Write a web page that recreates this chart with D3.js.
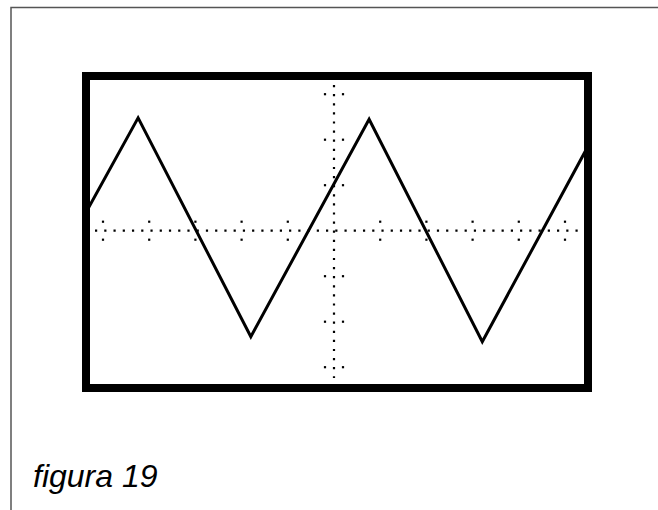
<!DOCTYPE html>
<html><head><meta charset="utf-8">
<script src="https://cdn.jsdelivr.net/npm/d3@7"></script>
<style>html,body{margin:0;padding:0;background:#fff;}svg{display:block;}</style>
</head><body>
<script>
// Waveform vertices in screen divisions (x: time div, y: volts div)
const waveX = [-5.37, -4.24, -1.80, 0.76, 3.21, 5.50];
const waveY = [0.40, 2.48, -2.33, 2.45, -2.44, 1.86];
const xTicks = [-5, -4, -3, -2, -1, 1, 2, 3, 4, 5];
const yTicks = [-3, -2, -1, 1, 2, 3];
const caption = "figura 19";

const W = 658, H = 510;
const svg = d3.select("body").append("svg").attr("width", W).attr("height", H);

// outer frame
svg.append("path").attr("d", `M11,${H} L11,7.5 L${W},7.5`)
  .attr("fill", "none").attr("stroke", "#555").attr("stroke-width", 1.5);

const x = d3.scaleLinear().domain([-5, 5]).range([103, 565]);
const y = d3.scaleLinear().domain([-3, 3]).range([367.2, 94.2]);

// graticule dotted axes
svg.append("line").attr("x1", 95).attr("x2", 578).attr("y1", y(0)).attr("y2", y(0))
  .attr("stroke", "#000").attr("stroke-width", 2.2).attr("stroke-dasharray", "2.2,7.04");
svg.append("line").attr("x1", x(0)).attr("x2", x(0)).attr("y1", 85).attr("y2", 378)
  .attr("stroke", "#000").attr("stroke-width", 2.2).attr("stroke-dasharray", "2.2,6.9");

const g = svg.append("g");
xTicks.forEach(t => {
  [-9, 9].forEach(o => g.append("rect").attr("x", x(t) - 1.1).attr("y", y(0) + o - 1.1)
    .attr("width", 2.2).attr("height", 2.2).attr("fill", "#000"));
});
yTicks.forEach(t => {
  [-9, 9].forEach(o => g.append("rect").attr("x", x(0) + o - 1.1).attr("y", y(t) - 1.1)
    .attr("width", 2.2).attr("height", 2.2).attr("fill", "#000"));
});

// clip to screen
svg.append("clipPath").attr("id", "scr").append("rect")
  .attr("x", 86).attr("y", 76).attr("width", 502).attr("height", 312);

const pts = waveX.map((v, i) => [v, waveY[i]]);
svg.append("path").datum(pts)
  .attr("clip-path", "url(#scr)")
  .attr("d", d3.line().x(d => x(d[0])).y(d => y(d[1])))
  .attr("fill", "none").attr("stroke", "#000").attr("stroke-width", 3)
  .attr("stroke-linejoin", "miter");

// screen border
svg.append("rect").attr("x", 86).attr("y", 76).attr("width", 502).attr("height", 312)
  .attr("fill", "none").attr("stroke", "#000").attr("stroke-width", 8);

svg.append("text").attr("x", 33).attr("y", 487)
  .attr("font-family", "Liberation Sans, Arial, sans-serif")
  .attr("font-style", "italic").attr("font-size", 32).attr("fill", "#000")
  .text(caption);
</script>
</body></html>
